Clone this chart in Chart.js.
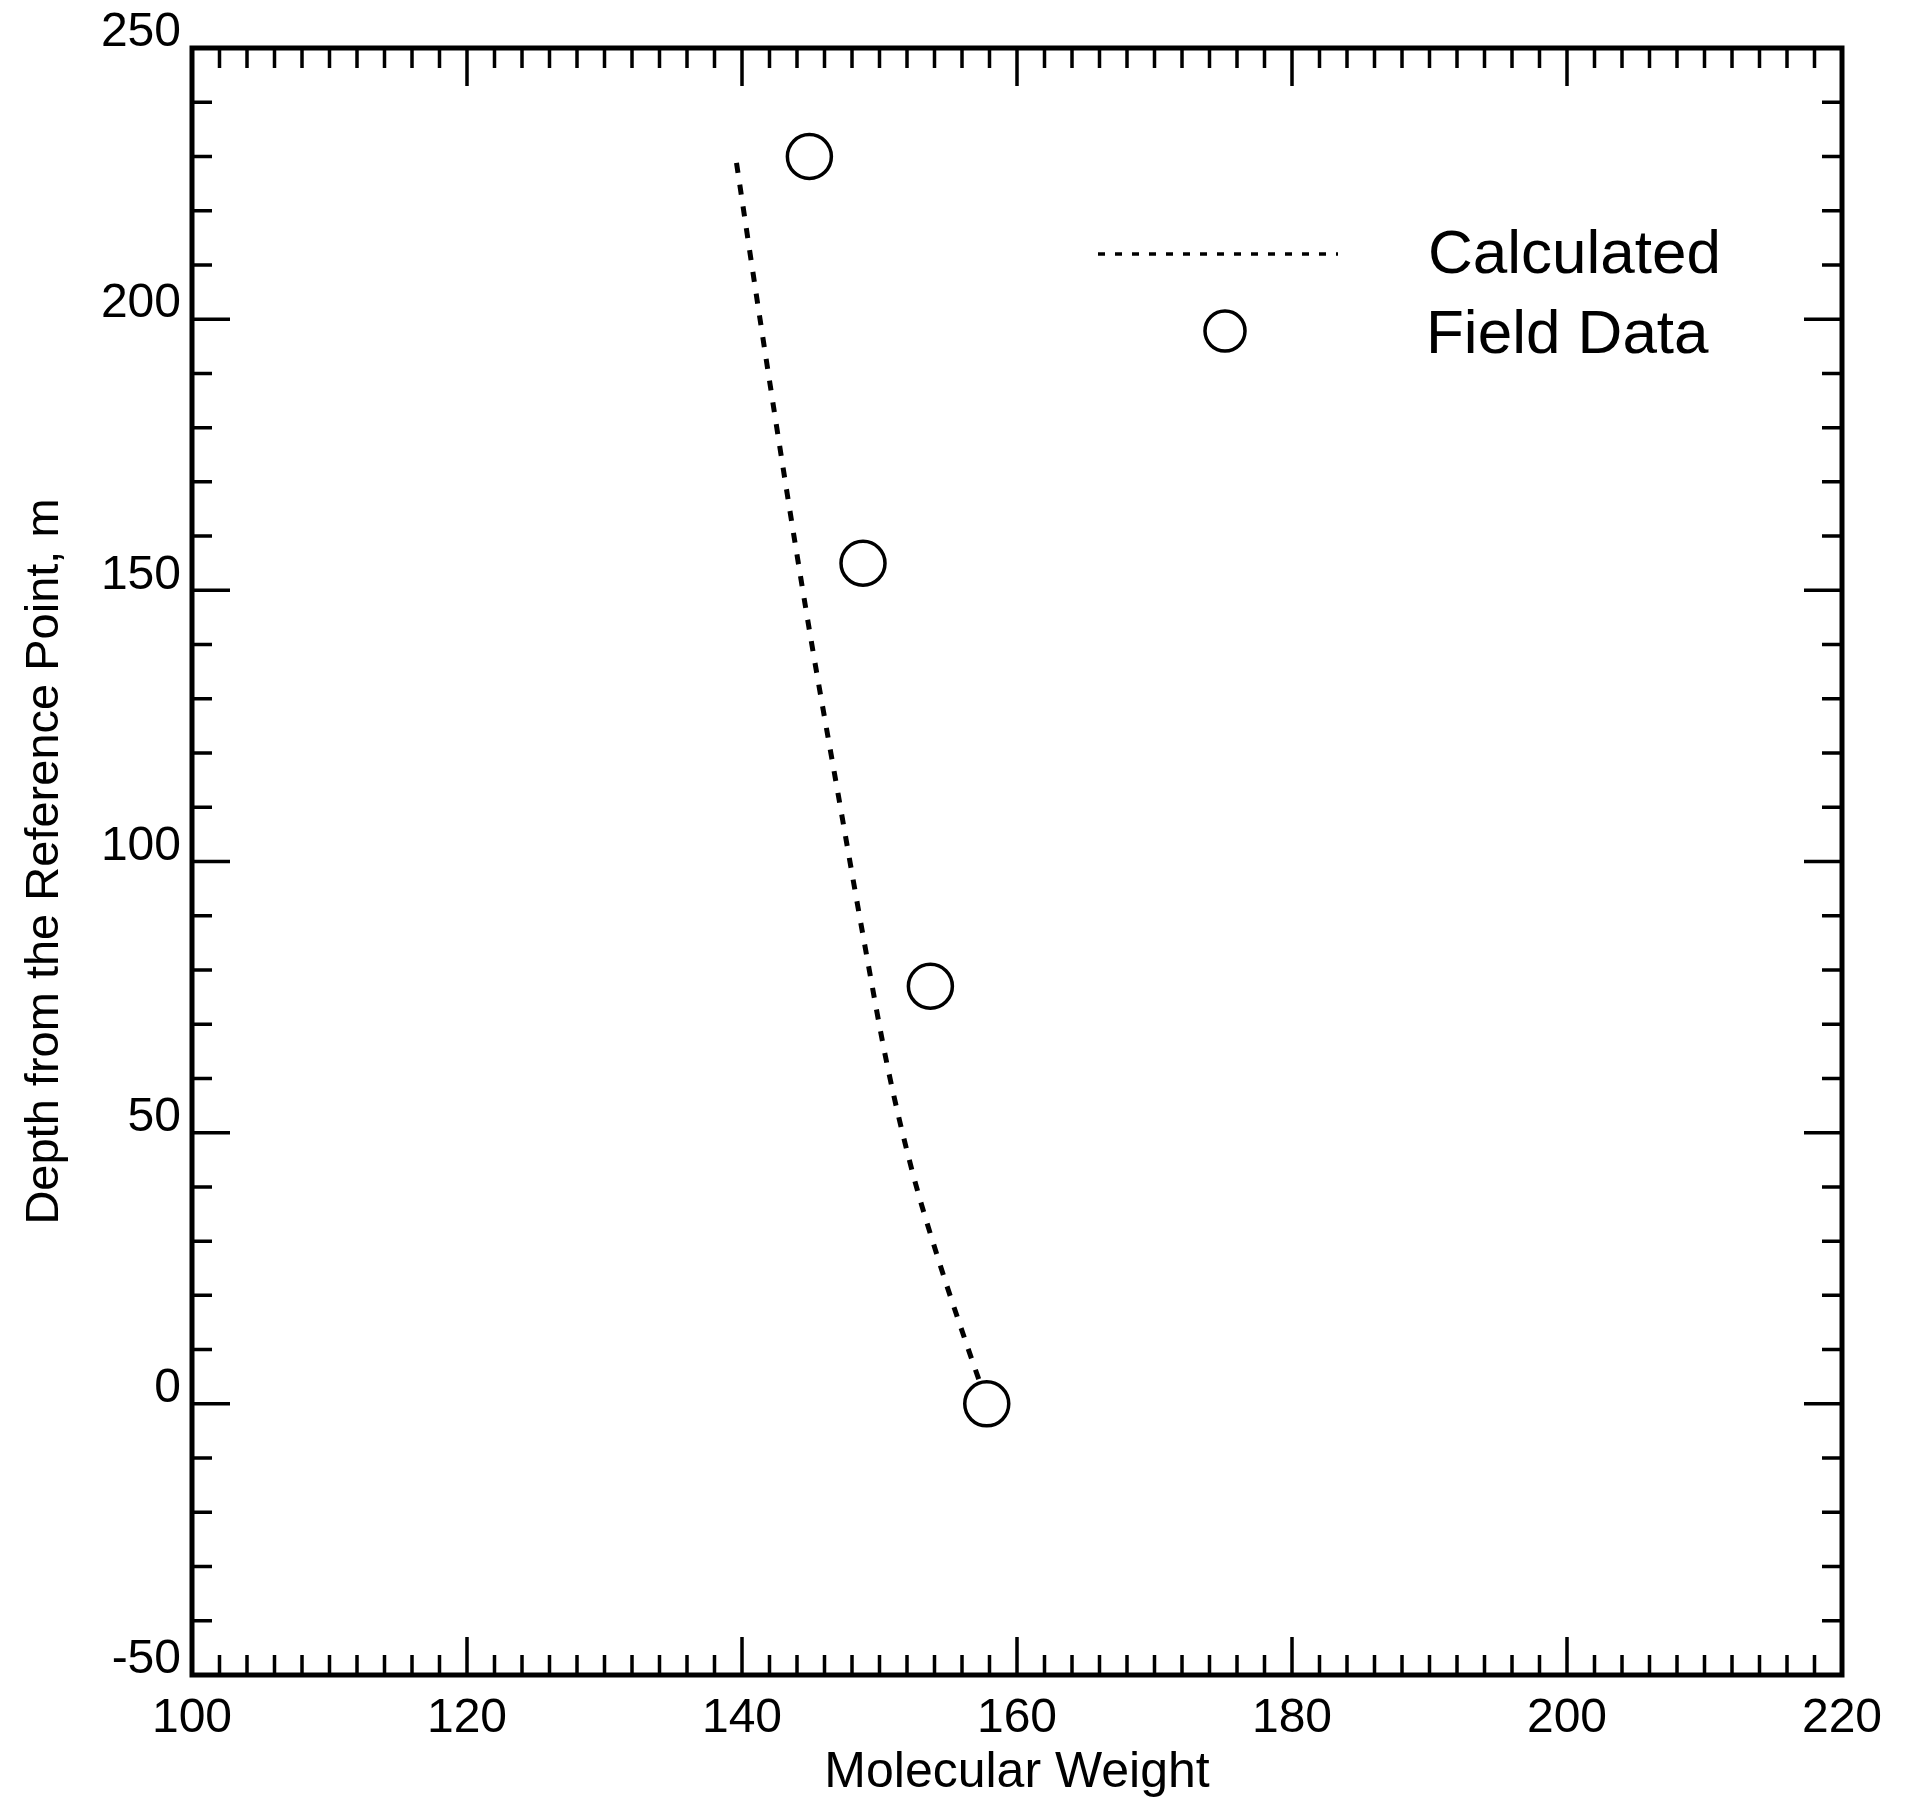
<!DOCTYPE html>
<html>
<head>
<meta charset="utf-8">
<script src="https://cdn.jsdelivr.net/npm/chart.js@4.4.1/dist/chart.umd.min.js"></script>
<style>
  html, body { margin: 0; padding: 0; background: #fff; }
  #wrap { width: 1917px; height: 1807px; }
</style>
</head>
<body>
<div id="wrap"><canvas id="depthChart"></canvas></div>
<script>
// calculated molecular weight profile with depth
const calcWeight = [139.6, 141.3, 143.3, 145.0, 147.0, 148.9, 150.6, 152.4, 154.3, 156.4, 157.5];
const calcDepth  = [228.8, 200.2, 167.6, 141.2, 112.3, 85.0, 62.0, 42.7, 26.5, 10.5, 2.5];

// measured samples
const fieldWeight = [144.9, 148.8, 153.7, 157.8];
const fieldDepth  = [230, 155, 77, 0];

const xMajorTicks = [100, 120, 140, 160, 180, 200, 220];
const yMajorTicks = [-50, 0, 50, 100, 150, 200, 250];
const xMinorStep = 2;
const yMinorStep = 10;

const seriesLabels = ['Calculated', 'Field Data'];

const FONT = "'Liberation Sans', Arial, sans-serif";

const toPoints = (xs, ys) => xs.map((v, i) => ({ x: v, y: ys[i] }));

// box frame with inward ticks on all four sides
const frameTicks = {
  id: 'frameTicks',
  afterDatasetsDraw(chart) {
    const { ctx, chartArea: a, scales: { x, y } } = chart;
    ctx.save();
    ctx.strokeStyle = '#000';
    ctx.lineWidth = 3.5;
    ctx.lineCap = 'butt';

    const x0 = xMajorTicks[0], x1 = xMajorTicks[xMajorTicks.length - 1];
    const nx = Math.round((x1 - x0) / xMinorStep);
    for (let i = 0; i <= nx; i++) {
      const v = x0 + i * xMinorStep;
      const len = xMajorTicks.includes(v) ? 38 : 20;
      const px = x.getPixelForValue(v);
      ctx.beginPath();
      ctx.moveTo(px, a.top); ctx.lineTo(px, a.top + len);
      ctx.moveTo(px, a.bottom); ctx.lineTo(px, a.bottom - len);
      ctx.stroke();
    }

    const y0 = yMajorTicks[0], y1 = yMajorTicks[yMajorTicks.length - 1];
    const ny = Math.round((y1 - y0) / yMinorStep);
    for (let i = 0; i <= ny; i++) {
      const v = y0 + i * yMinorStep;
      const len = yMajorTicks.includes(v) ? 38 : 20;
      const py = y.getPixelForValue(v);
      ctx.beginPath();
      ctx.moveTo(a.left, py); ctx.lineTo(a.left + len, py);
      ctx.moveTo(a.right, py); ctx.lineTo(a.right - len, py);
      ctx.stroke();
    }

    ctx.lineWidth = 5;
    ctx.strokeRect(a.left, a.top, a.right - a.left, a.bottom - a.top);
    ctx.restore();
  }
};

// legend in the upper right of the plot
const boxLegend = {
  id: 'boxLegend',
  afterDraw(chart) {
    const { ctx } = chart;
    const calc = chart.data.datasets[0];
    const field = chart.data.datasets[1];
    ctx.save();

    ctx.strokeStyle = calc.borderColor;
    ctx.lineWidth = 3.5;
    ctx.setLineDash([7, 10]);
    ctx.beginPath();
    ctx.moveTo(1098, 254);
    ctx.lineTo(1338, 254);
    ctx.stroke();
    ctx.setLineDash([]);

    ctx.lineWidth = field.pointBorderWidth;
    ctx.strokeStyle = field.borderColor;
    ctx.beginPath();
    ctx.arc(1225, 331, 20, 0, Math.PI * 2);
    ctx.stroke();

    ctx.fillStyle = '#000';
    ctx.font = '62px ' + FONT;
    ctx.textAlign = 'left';
    ctx.textBaseline = 'middle';
    ctx.fillText(seriesLabels[0], 1428, 256);
    ctx.fillText(seriesLabels[1], 1426, 336);
    ctx.restore();
  }
};

const ctx = document.getElementById('depthChart').getContext('2d');

new Chart(ctx, {
  type: 'scatter',
  data: {
    datasets: [{
      label: seriesLabels[0],
      data: toPoints(calcWeight, calcDepth),
      showLine: true,
      borderColor: '#000',
      borderWidth: 5,
      borderDash: [10, 12],
      cubicInterpolationMode: 'monotone',
      pointRadius: 0,
      fill: false
    }, {
      label: seriesLabels[1],
      data: toPoints(fieldWeight, fieldDepth),
      showLine: false,
      borderColor: '#000',
      backgroundColor: 'rgba(0,0,0,0)',
      pointRadius: 22,
      pointBorderWidth: 3.5,
      pointStyle: 'circle'
    }]
  },
  options: {
    responsive: true,
    maintainAspectRatio: false,
    animation: false,
    layout: { padding: { left: 0, top: 48, right: 75, bottom: 0 } },
    plugins: {
      legend: { display: false },
      tooltip: { enabled: false }
    },
    scales: {
      x: {
        type: 'linear',
        min: 100,
        max: 220,
        afterBuildTicks: s => { s.ticks = xMajorTicks.map(v => ({ value: v })); },
        afterFit: s => { s.height = 132; },
        grid: { display: false, drawTicks: false },
        border: { display: false },
        ticks: {
          color: '#000',
          font: { family: FONT, size: 48 },
          padding: 15,
          maxRotation: 0,
          autoSkip: false
        },
        title: {
          display: true,
          text: 'Molecular Weight',
          color: '#000',
          font: { family: FONT, size: 50 },
          padding: { top: 0, bottom: 4 }
        }
      },
      y: {
        type: 'linear',
        min: -50,
        max: 250,
        afterBuildTicks: s => { s.ticks = yMajorTicks.map(v => ({ value: v })); },
        afterFit: s => { s.width = 192; },
        grid: { display: false, drawTicks: false },
        border: { display: false },
        ticks: {
          color: '#000',
          font: { family: FONT, size: 48 },
          padding: 11,
          labelOffset: -15,
          autoSkip: false
        },
        title: {
          display: true,
          text: 'Depth from the Reference Point, m',
          color: '#000',
          font: { family: FONT, size: 47 },
          padding: { top: 17, bottom: 0 }
        }
      }
    }
  },
  plugins: [frameTicks, boxLegend]
});
</script>
</body>
</html>
